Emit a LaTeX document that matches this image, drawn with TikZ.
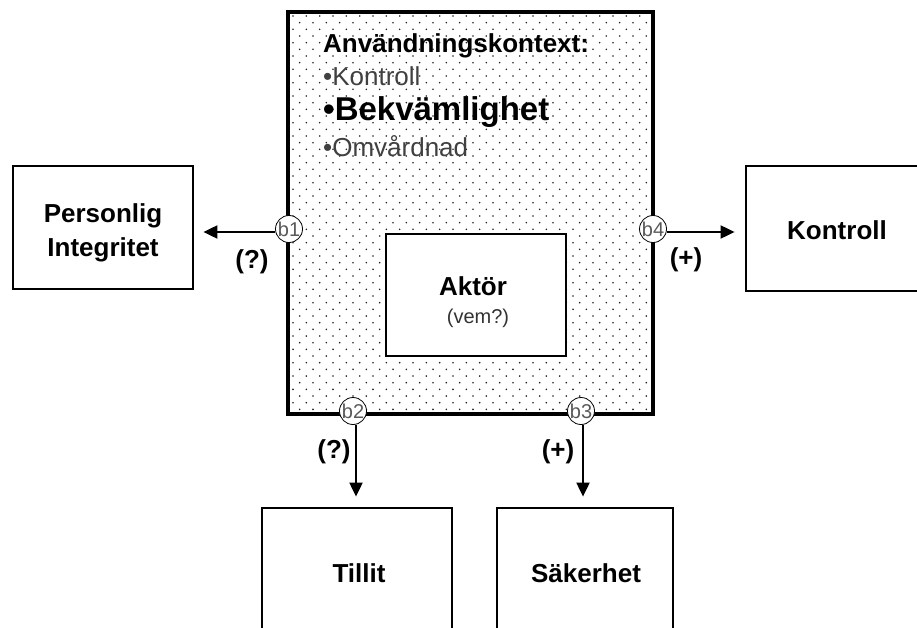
\documentclass[tikz,border=0pt]{standalone}
\usepackage{fontspec}
\setmainfont{Liberation Sans}
\usetikzlibrary{arrows.meta}
\begin{document}
\begin{tikzpicture}[x=1pt,y=-1pt,
  box/.style={draw,line width=2.8pt,fill=white,inner sep=0pt},
  lbl/.style={inner sep=0pt,align=center,font=\fontsize{26}{34}\selectfont\bfseries},
  item/.style={anchor=base west,inner sep=0pt,font=\fontsize{26}{26}\selectfont,text=black!75},
  port/.style={circle,draw,line width=0.8pt,fill=white,minimum size=27pt,inner sep=0pt,
    font=\fontsize{20}{20}\selectfont,text=black!65},
  arr/.style={line width=2pt,-{Triangle[length=14pt,width=13pt]}},
  sign/.style={inner sep=0pt,font=\fontsize{26}{26}\selectfont\bfseries}]
\clip (0,0) rectangle (917,628);

% context box with dotted fill
\node[box,minimum width=363pt,minimum height=400pt] (ctx) at (470.5,213) {};
\begin{scope}
  \clip (ctx.south west) rectangle (ctx.north east);
  \foreach \j in {0,...,59} {
    \pgfmathsetmacro\off{mod(\j,2)*6.667}
    \foreach \i in {0,...,27} {
      \fill[black!85] (293+\off+\i*13.333, 16+\j*6.667) circle (0.9pt);
    }
  }
\end{scope}
\draw[line width=2.8pt] (ctx.south west) rectangle (ctx.north east);

\node[anchor=base west,inner sep=0pt,font=\fontsize{26}{26}\selectfont\bfseries] (hdr) at (323,53) {Användningskontext:};
\node[item] (k1) at (323,86) {•Kontroll};
\node[anchor=base west,inner sep=0pt,font=\fontsize{33}{33}\selectfont\bfseries] (k2) at (323,121) {•Bekvämlighet};
\node[item] (k3) at (323,157) {•Omvårdnad};

% actor
\node[box,minimum width=180pt,minimum height=122pt] (akt) at (476,295) {};
\node[lbl] (aktt) at (473,286) {Aktör};
\node[inner sep=0pt,font=\fontsize{20}{20}\selectfont,text=black!80] (vem) at (478,318) {(vem?)};

% outer boxes
\node[box,minimum width=180pt,minimum height=123pt] (pers) at (103,227.5) {};
\node[lbl] (perst) at (103,233) {Personlig\\Integritet};
\node[box,minimum width=182pt,minimum height=125pt] (kon) at (837,228.5) {};
\node[lbl] (kont) at (837,230) {Kontroll};
\node[box,minimum width=190pt,minimum height=130pt] (till) at (357,573) {};
\node[lbl] (tillt) at (359,573) {Tillit};
\node[box,minimum width=176pt,minimum height=130pt] (sak) at (585,573) {};
\node[lbl] (sakt) at (586,573) {Säkerhet};

% ports
\node[port] (b1) at (289,229) {b1};
\node[port] (b4) at (653,229) {b4};
\node[port] (b2) at (353,411) {b2};
\node[port] (b3) at (581,411) {b3};

% arrows
\coordinate (p1) at ([yshift=-3pt]b1.west);
\coordinate (p4) at ([yshift=-3pt]b4.east);
\coordinate (p2) at ([xshift=3pt]b2.south);
\coordinate (p3) at ([xshift=2pt]b3.south);
\draw[arr,shorten >=9pt] (p1) -- (p1 -| pers.east);
\draw[arr,shorten >=10pt] (p4) -- (p4 -| kon.west);
\draw[arr,shorten >=10pt] (p2) -- (p2 |- till.north);
\draw[arr,shorten >=10pt] (p3) -- (p3 |- sak.north);

% signs
\node[sign] (s1) at (252,262) {(?)};
\node[sign] (s4) at (686,260) {(+)};
\node[sign] (s2) at (334,452) {(?)};
\node[sign] (s3) at (558,452) {(+)};
\end{tikzpicture}
\end{document}
